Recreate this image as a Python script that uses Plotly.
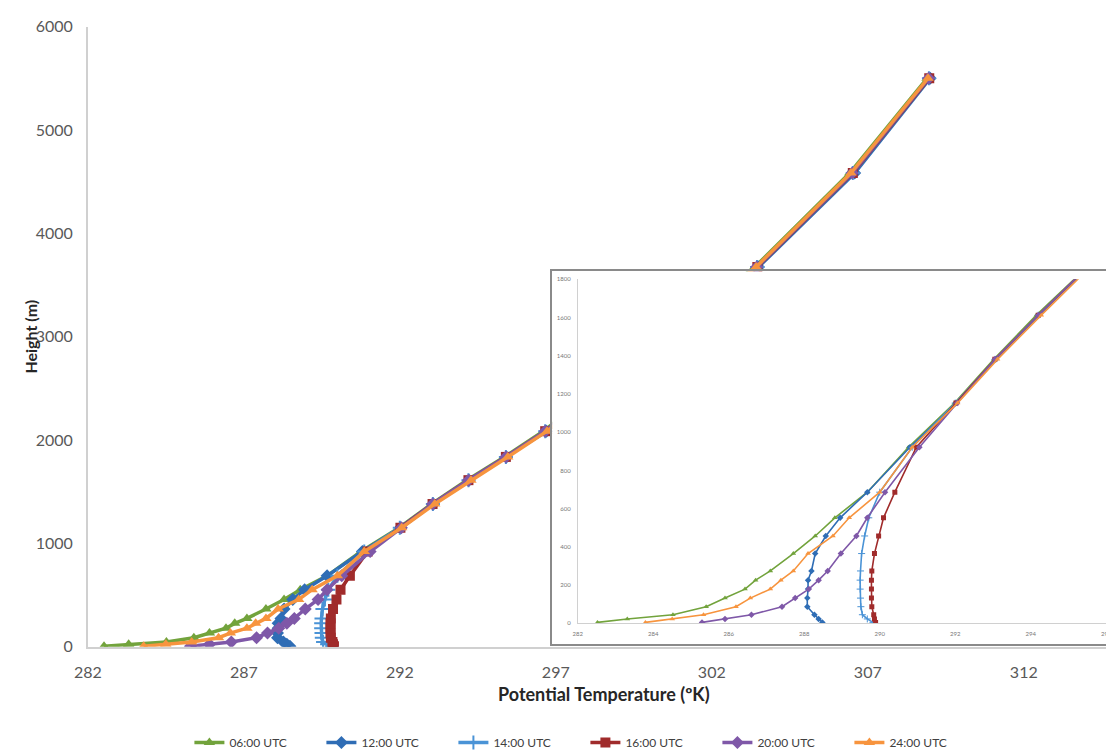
import plotly.graph_objects as go

# Heights (m) of the model levels
heights = [5, 23, 45, 87, 132, 179, 226, 274, 365, 457, 552, 686, 921,
           1152, 1381, 1612, 1837, 2086, 3675, 4584, 5502]

# Potential temperature (K) per series
t0600 = [282.52, 283.31, 284.52, 285.40, 285.90, 286.43, 286.71, 287.10, 287.71, 288.29, 288.81, 289.67, 290.76,
         291.98, 293.02, 294.15, 295.35, 296.60, 303.38, 306.42, 308.90]
t1200 = [288.48, 288.38, 288.27, 288.08, 288.08, 288.10, 288.10, 288.19, 288.29, 288.57, 288.95, 289.67, 290.80,
         292.02, 293.08, 294.22, 295.42, 296.70, 303.50, 306.58, 309.00]
t1400 = [289.82, 289.67, 289.54, 289.50, 289.49, 289.48, 289.48, 289.49, 289.52, 289.60, 289.71, 290.00, 290.86,
         292.00, 293.06, 294.20, 295.40, 296.66, 303.45, 306.52, 308.96]
t1600 = [289.89, 289.86, 289.84, 289.79, 289.78, 289.78, 289.78, 289.79, 289.86, 289.97, 290.10, 290.40, 290.97,
         292.02, 293.05, 294.20, 295.40, 296.66, 303.46, 306.52, 308.97]
t2000 = [285.29, 285.90, 286.60, 287.41, 287.76, 288.12, 288.38, 288.62, 288.97, 289.38, 289.67, 290.14, 291.05,
         292.05, 293.05, 294.20, 295.40, 296.66, 303.44, 306.50, 308.95]
t2400 = [283.79, 284.50, 285.33, 286.19, 286.57, 287.10, 287.38, 287.71, 288.10, 288.76, 289.19, 290.00, 290.86,
         292.06, 293.12, 294.28, 295.46, 296.72, 303.42, 306.46, 308.93]

names = ["06:00 UTC", "12:00 UTC", "14:00 UTC", "16:00 UTC", "20:00 UTC", "24:00 UTC"]
series = [t0600, t1200, t1400, t1600, t2000, t2400]
colors = ["#72A33C", "#2F6DB5", "#4A93D6", "#A02B2B", "#7F58A8", "#F7943E"]
symbols = ["triangle-up", "diamond", "cross-thin", "square", "diamond", "triangle-up"]

main_xticks = [282, 287, 292, 297, 302, 307, 312]
main_yticks = [0, 1000, 2000, 3000, 4000, 5000, 6000]
inset_xticks = [282, 284, 286, 288, 290, 292, 294, 296]
inset_yticks = [0, 200, 400, 600, 800, 1000, 1200, 1400, 1600, 1800]

FONT = "Lato"
W, H = 1114, 753

fig = go.Figure()

# main chart traces
for n, s, c, m in zip(names, series, colors, symbols):
    fig.add_trace(go.Scatter(
        x=s, y=heights, mode="lines+markers", name=n,
        line=dict(color=c, width=3.5),
        marker=dict(symbol=m, size=10, color=c,
                    line=dict(color=c, width=2 if m == "cross-thin" else 0)),
        xaxis="x", yaxis="y", showlegend=True))

# inset background box subplot (x2/y2)
fig.add_trace(go.Scatter(x=[None], y=[None], xaxis="x2", yaxis="y2",
                         showlegend=False, hoverinfo="skip"))

# inset traces (x3/y3)
for n, s, c, m in zip(names, series, colors, symbols):
    fig.add_trace(go.Scatter(
        x=s, y=heights, mode="lines+markers", name=n,
        line=dict(color=c, width=1.6),
        marker=dict(symbol=m, size=5, color=c,
                    line=dict(color=c, width=1 if m == "cross-thin" else 0)),
        xaxis="x3", yaxis="y3", showlegend=False))

axis_gray = "#D0D0D0"
tick_col = "#595959"

X0 = 67.0          # pixel of 282 on main x axis
PX_DEG = 31.77     # pixels per degree on main axis
Y_TOP, Y_BOT = 9.0, 645.0

fig.update_layout(
    width=W, height=H,
    margin=dict(l=0, r=0, t=0, b=0),
    paper_bgcolor="white", plot_bgcolor="white",
    font=dict(family=FONT, color=tick_col),
    xaxis=dict(domain=[X0 / W, 1.0], range=[282, 282 + (W - X0) / PX_DEG],
               tickvals=main_xticks, showgrid=False, zeroline=False,
               showline=True, linecolor=axis_gray, linewidth=1.5,
               ticks="outside", ticklen=10, tickcolor="rgba(0,0,0,0)",
               tickfont=dict(size=16, color=tick_col, family=FONT)),
    yaxis=dict(domain=[1 - Y_BOT / H, 1 - Y_TOP / H], range=[0, 6000],
               tickvals=main_yticks, showgrid=False, zeroline=False,
               showline=True, linecolor=axis_gray, linewidth=1.5,
               ticks="outside", ticklen=10, tickcolor="rgba(0,0,0,0)",
               tickfont=dict(size=16, color=tick_col, family=FONT)),
    xaxis2=dict(domain=[540 / W, 1.0], range=[0, 1], anchor="y2",
                showticklabels=False, showgrid=False, zeroline=False,
                showline=True, mirror=True, linecolor="#8A8A8A", linewidth=1.5,
                fixedrange=True),
    yaxis2=dict(domain=[1 - 642 / H, 1 - 260 / H], range=[0, 1], anchor="x2",
                showticklabels=False, showgrid=False, zeroline=False,
                showline=True, mirror=True, linecolor="#8A8A8A", linewidth=1.5,
                fixedrange=True),
    xaxis3=dict(domain=[566 / W, 1104 / W], range=[282, 296], anchor="y3",
                tickvals=inset_xticks, showgrid=False, zeroline=False,
                showline=True, linecolor=axis_gray, linewidth=1,
                ticks="outside", ticklen=4, tickcolor="rgba(0,0,0,0)",
                tickfont=dict(size=6, color="#777777", family=FONT)),
    yaxis3=dict(domain=[1 - 621 / H, 1 - 268 / H], range=[0, 1800], anchor="x3",
                tickvals=inset_yticks, showgrid=False, zeroline=False,
                showline=True, linecolor=axis_gray, linewidth=1,
                ticks="outside", ticklen=5, tickcolor="rgba(0,0,0,0)",
                tickfont=dict(size=6, color="#777777", family=FONT)),
    legend=dict(orientation="h", x=0.515, xanchor="center", y=0.013, yanchor="middle",
                font=dict(size=12, color="#404040", family=FONT),
                entrywidth=87, entrywidthmode="pixels",
                bgcolor="rgba(0,0,0,0)", itemwidth=30),
    showlegend=True,
)

# white background for the inset box (drawn in the x2/y2 subplot, above main traces)
fig.add_shape(type="rect", xref="x2", yref="y2", x0=0, x1=1, y0=0, y1=1,
              fillcolor="white", line=dict(width=0), layer="below")

# axis titles
fig.add_annotation(text="<b>Potential Temperature (ºK)</b>", xref="paper", yref="paper",
                   x=593 / W, y=1 - 693 / H, xanchor="center", yanchor="middle",
                   showarrow=False, font=dict(size=18, color="#262626", family=FONT))
fig.add_annotation(text="<b>Height (m)</b>", xref="paper", yref="paper",
                   x=9 / W, y=1 - 327 / H, xanchor="center", yanchor="middle",
                   showarrow=False, textangle=-90,
                   font=dict(size=16, color="#262626", family=FONT))

fig.write_html("out.html")
